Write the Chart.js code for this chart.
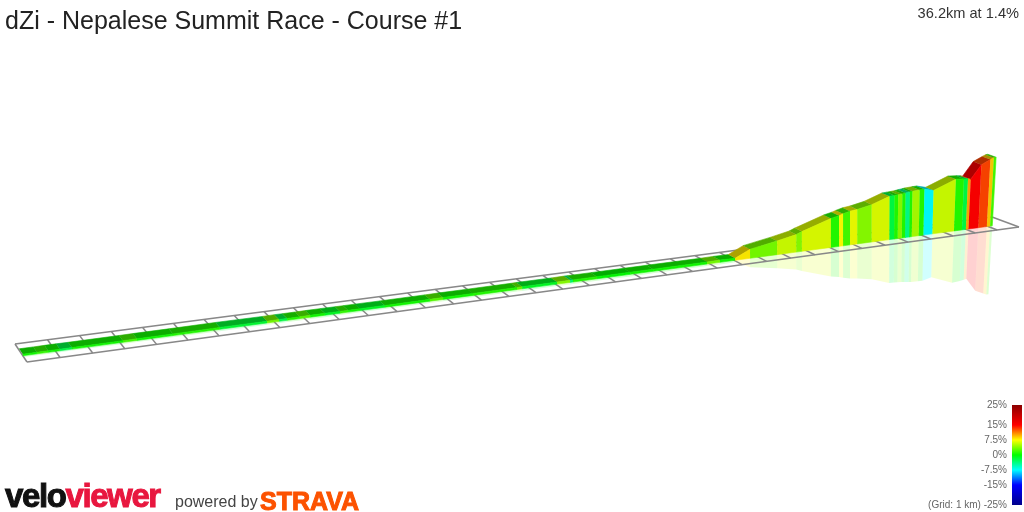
<!DOCTYPE html>
<html>
<head>
<meta charset="utf-8">
<title>dZi - Nepalese Summit Race - Course #1</title>
<script src="https://cdn.jsdelivr.net/npm/chart.js@4"></script>
<style>
  body { margin: 0; background: #fff; width: 1024px; height: 512px; overflow: hidden; position: relative; font-family: "Liberation Sans", Arial, sans-serif; }
  canvas { position: absolute; }
  .txt { position: absolute; white-space: nowrap; line-height: 1; }
  #title { left: 5px; top: 8px; font-size: 25px; color: #222; }
  #stat { right: 5px; top: 6px; font-size: 14.6px; color: #333; }
  #powered { left: 175px; top: 494px; font-size: 16px; color: #444; }
  #velo { left: 5px; top: 479px; font-size: 33px; font-weight: bold; letter-spacing: -1.4px; color: #111; -webkit-text-stroke: 1px currentColor; }
  #velo span { color: #e8173f; }
  #strava { left: 260px; top: 489px; font-size: 25px; font-weight: bold; color: #fc5200; -webkit-text-stroke: 1px currentColor; }
</style>
</head>
<body>
<canvas id="profile" width="1024" height="512" style="left:0;top:0"></canvas>
<canvas id="scaleBar" width="124" height="117" style="left:900px;top:395px"></canvas>
<div class="txt" id="title">dZi - Nepalese Summit Race - Course #1</div>
<div class="txt" id="stat">36.2km at 1.4%</div>
<div class="txt" id="velo">velo<span>viewer</span></div>
<div class="txt" id="powered">powered by</div>
<div class="txt" id="strava">STRAVA</div>
<script>
// distance at each colour change (km)
const segKm = [0, 0.43, 0.77, 1.13, 1.5, 3.09, 3.53, 4.68, 6.2, 7.76, 8.16, 8.43, 8.86, 9.21, 9.71, 10.23, 10.51, 10.92, 11.79, 13.38, 13.85, 14.93, 16.55, 16.74, 18.05, 18.54, 18.65, 19.57, 20.85, 21.75, 23.9, 24.42, 25.04,
  25.65, 26.77, 27.57, 27.81, 29.04, 29.39, 29.56, 29.86, 30.17, 30.8, 31.57, 31.78, 31.94, 32.12, 32.26, 32.45, 32.56, 32.87, 33.08, 33.48, 34.45, 34.81, 34.99, 35.11, 35.56, 35.95, 36.1, 36.2];
// height above the grid at those points (m)
const segElev = [15, 15, 16, 16, 15, 16, 17, 17, 19, 17, 19, 18, 18, 19, 19, 18, 18, 18, 17, 18, 19, 19, 20, 21, 20, 22, 21, 21, 21, 21, 20, 22, 20,
  90, 137, 175, 197, 290, 307, 320, 337, 345, 373, 433, 435, 437, 440, 445, 450, 453, 457, 458, 433, 517, 510, 505, 497, 630, 670, 683, 685];
// gradient of each section (%)
const segGrade = [0.5, 1.5, 0.5, -2, 0.5, 2, 0.5, 1, -1.5, 3.5, -2, 1, 2.5, 0.5, -1, 1.5, 0.5, -1, 0.5, 2.5, 0.5, 1, 3, -1, 4, -3, 1, 0, 0.5, 0.5, 3.5, 0.5,
  8, 3.5, 6, 4, 6.5, 1, 7.5, 2, 7, 4, 6.5, -2, 1, 4, 1, -4, 1, 5, 1, -7.5, 6, 1, -2, 10, 15, 13, 9, 2];

const gridKm = 37;
const scaleTicks = [25, 15, 7.5, 0, -7.5, -15, -25];
const scaleColors = ['#8b0000', '#ff0000', '#ffff00', '#00ff00', '#00ffff', '#0000ff', '#00008b'];

// view of the 3d scene
const view = { backA: [15, 344], backB: [992, 217], frontA: [27, 362], frontB: [1019, 227], persp: 0.24, mPerPx: 10 };
const ribbonFront = 0.65, ribbonBack = 0.35;

function project(km, lat, h) {
  const u = km / gridKm;
  const t = u * (1 + view.persp) / (1 + view.persp * u);
  const bx = view.backA[0] + (view.backB[0] - view.backA[0]) * t;
  const by = view.backA[1] + (view.backB[1] - view.backA[1]) * t;
  const fx = view.frontA[0] + (view.frontB[0] - view.frontA[0]) * t;
  const fy = view.frontA[1] + (view.frontB[1] - view.frontA[1]) * t;
  const x = bx + (fx - bx) * lat;
  const y = by + (fy - by) * lat;
  const px = h / view.mPerPx;
  // verticals lean out a little at the far end
  const lean = Math.max(0, x - 880) * 0.0005;
  return { x: x + lean * px, y: y - px };
}

function rgb(hex) {
  return [1, 3, 5].map(i => parseInt(hex.slice(i, i + 2), 16));
}

function gradeColor(grade, shade, alpha) {
  let i = 0;
  while (i < scaleTicks.length - 2 && grade < scaleTicks[i + 1]) i++;
  const f = (scaleTicks[i] - grade) / (scaleTicks[i] - scaleTicks[i + 1]);
  const a = rgb(scaleColors[i]), b = rgb(scaleColors[i + 1]);
  const c = a.map((v, k) => Math.round((v + (b[k] - v) * f) * shade));
  return `rgba(${c[0]},${c[1]},${c[2]},${alpha})`;
}

function polygon(points, color) {
  return { data: points, backgroundColor: color, borderColor: color, borderWidth: 0.6, fill: 'shape', pointRadius: 0, tension: 0, clip: false };
}

function gridLine(points) {
  return { data: points, borderColor: '#888888', borderWidth: 1.5, fill: false, pointRadius: 0, tension: 0, clip: false };
}

const reflections = [], gridLines = [], tops = [], walls = [];

segGrade.forEach((grade, i) => {
  const k0 = segKm[i], k1 = segKm[i + 1], h0 = segElev[i], h1 = segElev[i + 1];
  const refl = polygon([project(k0, ribbonFront, 0), project(k1, ribbonFront, 0), project(k1, ribbonFront, -h1), project(k0, ribbonFront, -h0)], gradeColor(grade, 1, 0.18));
  refl.borderWidth = 0;
  reflections.push(refl);
  tops.push(polygon([project(k0, ribbonBack, h0), project(k1, ribbonBack, h1), project(k1, ribbonFront, h1), project(k0, ribbonFront, h0)], gradeColor(grade, 0.68, 1)));
  walls.push(polygon([project(k0, ribbonFront, 0), project(k1, ribbonFront, 0), project(k1, ribbonFront, h1), project(k0, ribbonFront, h0)], gradeColor(grade, 0.96, 1)));
});

for (let km = 0; km <= gridKm; km++) {
  gridLines.push(gridLine([project(km, 0, 0), project(km, 1, 0)]));
}
gridLines.push(gridLine([project(0, 0, 0), project(gridKm, 0, 0)]));
gridLines.push(gridLine([project(0, 1, 0), project(gridKm, 1, 0)]));

// chart.js paints the first dataset last, so flip the paint order
const profileSets = [...reflections, ...gridLines, ...tops, ...walls].reverse();

new Chart(document.getElementById('profile').getContext('2d'), {
  type: 'line',
  data: { datasets: profileSets },
  options: {
    responsive: false,
    animation: false,
    events: [],
    layout: { padding: 0 },
    plugins: { legend: { display: false }, tooltip: { enabled: false } },
    scales: {
      x: { type: 'linear', display: false, min: 0, max: 1024 },
      y: { type: 'linear', display: false, min: 0, max: 512, reverse: true }
    }
  }
});

new Chart(document.getElementById('scaleBar').getContext('2d'), {
  type: 'bar',
  data: {
    labels: ['grade'],
    datasets: [{
      data: [[scaleTicks[scaleTicks.length - 1], scaleTicks[0]]],
      barPercentage: 1,
      categoryPercentage: 1,
      backgroundColor: (ctx) => {
        const area = ctx.chart.chartArea;
        if (!area) return scaleColors[3];
        const g = ctx.chart.ctx.createLinearGradient(0, area.top, 0, area.bottom);
        const yScale = ctx.chart.scales.y;
        scaleTicks.forEach((v, i) => g.addColorStop((yScale.getPixelForValue(v) - area.top) / area.height, scaleColors[i]));
        return g;
      }
    }]
  },
  options: {
    responsive: false,
    animation: false,
    events: [],
    layout: { padding: { top: 10, bottom: 7, right: 2, left: 0 } },
    plugins: { legend: { display: false }, tooltip: { enabled: false } },
    scales: {
      x: { display: false },
      y: {
        min: -25,
        max: 25,
        grid: { display: false, drawTicks: false },
        border: { display: false },
        afterFit: (axis) => { axis.width = 112; axis.paddingTop = 0; axis.paddingBottom = 0; },
        afterBuildTicks: (axis) => { axis.ticks = scaleTicks.map(value => ({ value })); },
        ticks: {
          autoSkip: false,
          padding: 5,
          color: '#666666',
          font: { family: '"Liberation Sans", Arial, sans-serif', size: 10 },
          callback: (v) => (v === -25 ? '(Grid: 1 km) -25%' : v + '%')
        }
      }
    }
  }
});
</script>
</body>
</html>
